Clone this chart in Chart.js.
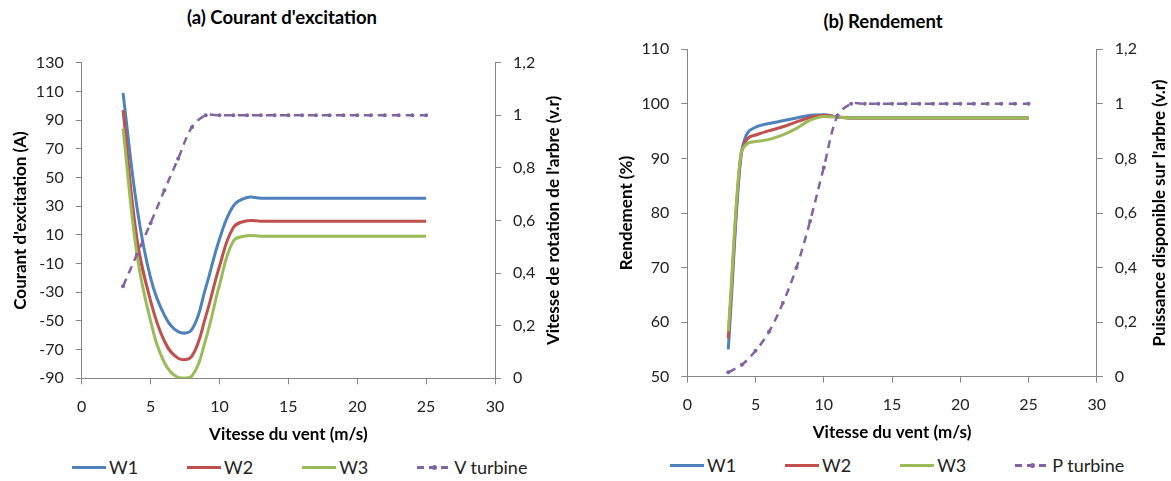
<!DOCTYPE html>
<html>
<head>
<meta charset="utf-8">
<title>Courant d'excitation et rendement</title>
<script src="https://cdn.jsdelivr.net/npm/chart.js@4"></script>
<style>
  body { margin: 0; width: 1171px; height: 481px; background: #fff; position: relative; overflow: hidden; font-family: Lato, "Open Sans", sans-serif; color: #222; }
  canvas { position: absolute; top: 0; }
  .title { position: absolute; font-weight: bold; font-size: 18.5px; text-align: center; white-space: nowrap; color: #000; }
  .legend { position: absolute; display: flex; gap: 49px; font-size: 18px; line-height: 20px; white-space: nowrap; }
  .legend-item { display: flex; align-items: center; }
  .swatch { position: relative; display: inline-block; width: 34px; height: 3px; margin-right: 3px; }
  .swatch .dot { position: absolute; left: 15px; top: -1px; width: 5px; height: 5px; border-radius: 50%; }
</style>
</head>
<body>
<div class="title" style="left:0;width:564px;top:6px">(a) Courant d'excitation</div>
<div class="title" style="left:600px;width:566px;top:10px">(b) Rendement</div>
<canvas id="chartA" width="570" height="450" style="left:0"></canvas>
<canvas id="chartB" width="571" height="448" style="left:600px"></canvas>
<div class="legend" id="legendA" style="left:72px;top:457px"></div>
<div class="legend" id="legendB" style="left:670px;top:455px"></div>
<script>
// vitesse du vent (m/s)
const speedA = [3, 4, 5, 6, 7, 8, 9, 10, 11, 12, 13, 15, 20, 25];
const currentW1 = [109, 30, -20, -46, -57.5, -56, -27, 7, 30, 36, 35.5, 35.5, 35.5, 35.5];
const currentW2 = [97, 8, -36, -64, -76, -74.5, -47, -12, 15, 19.8, 19.5, 19.5, 19.5, 19.5];
const currentW3 = [84, -3, -50, -79, -89.5, -88.5, -63, -25, 5.5, 9.4, 9, 9, 9, 9];

const speedTurbine = [3, 4, 5, 6, 7, 8, 9, 10, 11, 12, 13, 14, 15, 16, 17, 18, 19, 20, 21, 22, 23, 24, 25];
const vTurbine = [0.35, 0.47, 0.59, 0.715, 0.835, 0.955, 1.0, 1.0, 1.0, 1.0, 1.0, 1.0, 1.0, 1.0, 1.0, 1.0, 1.0, 1.0, 1.0, 1.0, 1.0, 1.0, 1.0];
const pTurbine = [0.016, 0.044, 0.095, 0.166, 0.27, 0.40, 0.571, 0.767, 0.956, 1.0, 1.0, 1.0, 1.0, 1.0, 1.0, 1.0, 1.0, 1.0, 1.0, 1.0, 1.0, 1.0, 1.0];

const speedB = [3, 4, 5, 6, 7, 8, 9, 10, 11, 12, 15, 20, 25];
const rendW1 = [55, 91.5, 95.7, 96.4, 96.9, 97.4, 97.9, 98, 97.6, 97.4, 97.4, 97.4, 97.4];
const rendW2 = [57, 91.5, 94.3, 95.1, 95.8, 96.7, 97.5, 97.9, 97.6, 97.4, 97.4, 97.4, 97.4];
const rendW3 = [58.3, 91.5, 93.1, 93.5, 94.3, 95.5, 97, 97.7, 97.6, 97.4, 97.4, 97.4, 97.4];

const seriesNames = ["W1", "W2", "W3"];
const seriesColors = ["#4F81BD", "#C0504D", "#9BBB59"];
const turbineColor = "#8064A2";

const xTicks = [0, 5, 10, 15, 20, 25, 30];

const axisGray = "#868686";
const tickFont = { family: "Lato", size: 16 };
const titleFont = { family: "Lato", size: 17, weight: "bold" };

function toPoints(xs, ys) {
  return xs.map((x, i) => ({ x: x, y: ys[i] }));
}

// virgule décimale comme dans Excel
function frNumber(v) {
  return String(Math.round(v * 10) / 10).replace(".", ",");
}

// titre de l'axe secondaire, lu de bas en haut
const sideTitle = {
  id: "sideTitle",
  afterDraw(chart, args, opts) {
    const ctx = chart.ctx;
    const area = chart.chartArea;
    const scale = chart.scales.y2;
    ctx.save();
    ctx.font = "bold 17px Lato";
    ctx.fillStyle = "#000";
    ctx.textAlign = "center";
    ctx.textBaseline = "middle";
    ctx.translate(scale.right - opts.offset, (area.top + area.bottom) / 2);
    ctx.rotate(-Math.PI / 2);
    ctx.fillText(opts.text, 0, 0);
    ctx.restore();
  }
};

function lineSets(xs, values, smooth, turbineXs, turbineValues, turbineLabel) {
  const sets = values.map((vals, i) => ({
    label: seriesNames[i],
    data: toPoints(xs, vals),
    borderColor: seriesColors[i],
    backgroundColor: seriesColors[i],
    borderWidth: 3,
    pointRadius: 0,
    tension: 0.4,
    cubicInterpolationMode: smooth,
    yAxisID: "y",
    order: 4 - i
  }));
  sets.push({
    label: turbineLabel,
    data: toPoints(turbineXs, turbineValues),
    borderColor: turbineColor,
    backgroundColor: turbineColor,
    borderWidth: 2.5,
    borderDash: [8, 6],
    pointRadius: 2,
    pointBorderWidth: 0,
    pointBackgroundColor: turbineColor,
    tension: 0.35,
    yAxisID: "y2",
    order: 0
  });
  return sets;
}

function makeOptions(cfg) {
  return {
    responsive: false,
    animation: false,
    devicePixelRatio: 1,
    layout: { padding: { top: cfg.top, left: 0, right: 0, bottom: 0 } },
    plugins: {
      legend: { display: false },
      tooltip: { enabled: false },
      sideTitle: { text: cfg.sideTitle, offset: cfg.sideOffset }
    },
    scales: {
      x: {
        type: "linear",
        min: 0,
        max: 30,
        afterBuildTicks: s => { s.ticks = xTicks.map(v => ({ value: v })); },
        afterFit: s => { s.height = cfg.xHeight; },
        border: { color: axisGray, width: 1 },
        grid: { drawOnChartArea: false, color: axisGray, tickLength: 6 },
        ticks: { font: tickFont, color: "#222", padding: 13, maxRotation: 0 },
        title: { display: true, text: "Vitesse du vent (m/s)", font: titleFont, color: "#000", padding: { top: 4, bottom: 5 } }
      },
      y: {
        position: "left",
        min: cfg.yMin,
        max: cfg.yMax,
        afterBuildTicks: s => { s.ticks = cfg.yTicks.map(v => ({ value: v })); },
        afterFit: s => { s.width = cfg.yWidth; },
        border: { color: axisGray, width: 1 },
        grid: { drawOnChartArea: false, color: axisGray, tickLength: 6 },
        ticks: { font: tickFont, color: "#222", padding: 12 },
        title: { display: true, text: cfg.yTitle, font: titleFont, color: "#000", padding: { top: cfg.yTitlePad, bottom: 0 } }
      },
      y2: {
        position: "right",
        min: 0,
        max: 1.2,
        afterBuildTicks: s => { s.ticks = [0, 0.2, 0.4, 0.6, 0.8, 1, 1.2].map(v => ({ value: v })); },
        afterFit: s => { s.width = cfg.y2Width; },
        border: { color: axisGray, width: 1 },
        grid: { drawOnChartArea: false, color: axisGray, tickLength: 6 },
        ticks: { font: tickFont, color: "#222", padding: 12, callback: v => frNumber(v) }
      }
    }
  };
}

new Chart(document.getElementById("chartA"), {
  type: "line",
  data: { datasets: lineSets(speedA, [currentW1, currentW2, currentW3], "default", speedTurbine, vTurbine, "V turbine") },
  options: makeOptions({
    top: 62.7, xHeight: 71.7, yWidth: 81.7, y2Width: 75,
    yMin: -90, yMax: 130, yTicks: [-90, -70, -50, -30, -10, 10, 30, 50, 70, 90, 110, 130],
    yTitle: "Courant d'excitation (A)", yTitlePad: 10,
    sideTitle: "Vitesse de rotation de l'arbre (v.r)", sideOffset: 16
  }),
  plugins: [sideTitle]
});

new Chart(document.getElementById("chartB"), {
  type: "line",
  data: { datasets: lineSets(speedB, [rendW1, rendW2, rendW3], "monotone", speedTurbine, pTurbine, "P turbine") },
  options: makeOptions({
    top: 49.3, xHeight: 71.3, yWidth: 87.3, y2Width: 74.2,
    yMin: 50, yMax: 110, yTicks: [50, 60, 70, 80, 90, 100, 110],
    yTitle: "Rendement (%)", yTitlePad: 16.5,
    sideTitle: "Puissance disponible sur l'arbre (v.r)", sideOffset: 11
  }),
  plugins: [sideTitle]
});

// légendes en HTML
function renderLegend(containerId, turbineLabel) {
  const container = document.getElementById(containerId);
  container.innerHTML = "";
  seriesNames.forEach((name, i) => {
    const item = document.createElement("div");
    item.className = "legend-item";
    item.innerHTML = `<span class="swatch" style="background:${seriesColors[i]}"></span><span>${name}</span>`;
    container.appendChild(item);
  });
  const item = document.createElement("div");
  item.className = "legend-item";
  item.innerHTML = `
    <span class="swatch" style="background: repeating-linear-gradient(90deg, ${turbineColor} 0 7px, transparent 7px 12px);">
      <span class="dot" style="background:${turbineColor}"></span>
    </span><span>${turbineLabel}</span>`;
  container.appendChild(item);
}

renderLegend("legendA", "V turbine");
renderLegend("legendB", "P turbine");
</script>
</body>
</html>
